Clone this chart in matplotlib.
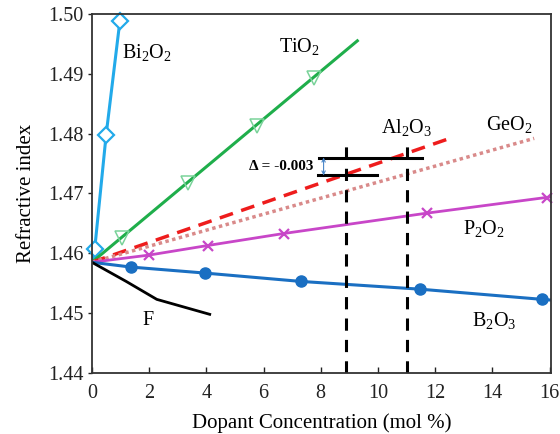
import matplotlib
matplotlib.use("Agg")
import matplotlib.pyplot as plt

plt.rcParams['font.family'] = ['Liberation Serif', 'DejaVu Serif']
plt.rcParams['mathtext.fontset'] = 'custom'
plt.rcParams['mathtext.rm'] = 'Liberation Serif'
plt.rcParams['mathtext.it'] = 'Liberation Serif:italic'

# Refractive index of silica vs dopant concentration (mol %)
bi_x = [0.0, 0.1, 0.5, 0.98, 1.02]
bi_y = [1.4585, 1.4607, 1.4798, 1.4988, 1.5003]
bi_mx = [0.1, 0.5, 0.98]
bi_my = [1.4607, 1.4798, 1.4988]

ti_x = [0.0, 9.28]
ti_y = [1.4585, 1.4955]
ti_mx = [1.05, 3.35, 5.79, 7.78]
ti_my = [1.4625, 1.4717, 1.4812, 1.4893]

al_x = [0.0, 12.39]
al_y = [1.4585, 1.4790]

ge_x = [0.0, 15.46]
ge_y = [1.4585, 1.4792]

p_x = [0.0, 2.0, 4.05, 6.7, 11.7, 16.0]
p_y = [1.4585, 1.4597, 1.4613, 1.4633, 1.4667, 1.4694]
p_mx = [2.0, 4.05, 6.7, 11.7, 15.9]
p_my = [1.4597, 1.4613, 1.4633, 1.4667, 1.4693]

b_x = [0.0, 1.36, 3.94, 7.3, 11.48, 15.74, 16.0]
b_y = [1.4585, 1.4577, 1.4567, 1.4553, 1.4540, 1.4523, 1.4522]
b_mx = [1.36, 3.94, 7.3, 11.48, 15.74]
b_my = [1.4577, 1.4567, 1.4553, 1.4540, 1.4523]

f_x = [0.0, 1.2, 2.27, 4.12]
f_y = [1.4585, 1.4553, 1.4523, 1.4498]

vlines_x = [8.9, 11.03]
vline_top = 1.4785
hl_upper = (1.4760, 7.93, 11.55)
hl_lower = (1.4730, 7.9, 9.95)
delta_text = "Δ = -0.003"

fig = plt.figure(figsize=(5.6, 4.34), dpi=100)
ax = fig.add_axes([0.164, 0.1406, 0.82, 0.8274])

c_bi = '#22aaea'
c_ti = '#1fae4b'
c_al = '#ee1c1c'
c_ge = '#d98a8a'
c_p = '#c846c8'
c_b = '#1a6fc2'

ax.plot(bi_x, bi_y, color=c_bi, lw=2.2, clip_on=True)
ax.plot(bi_mx, bi_my, ls='none', marker='D', ms=8, mfc='white', mec=c_bi, mew=1.6, clip_on=False)

ax.plot(ti_x, ti_y, color=c_ti, lw=2.2)
ax.plot(ti_mx, ti_my, ls='none', marker='v', ms=10, mfc='none', mec='#7ad39a', mew=1.1)

ax.plot(al_x, al_y, color=c_al, lw=2.5, ls=(0, (4, 2.5)))
ax.plot(ge_x, ge_y, color=c_ge, lw=2.5, ls=(0, (1, 1)))

ax.plot(p_x, p_y, color=c_p, lw=2.0)
ax.plot(p_mx, p_my, ls='none', marker='x', ms=7, mec=c_p, mew=1.6, clip_on=False)

ax.plot(b_x, b_y, color=c_b, lw=2.2)
ax.plot(b_mx, b_my, ls='none', marker='o', ms=8, color=c_b, clip_on=False)

ax.plot(f_x, f_y, color='black', lw=2.0)

for vx in vlines_x:
    ax.plot([vx, vx], [1.44, vline_top], color='black', lw=2.2, ls=(0, (4, 3)))

ax.plot([hl_upper[1], hl_upper[2]], [hl_upper[0], hl_upper[0]], color='black', lw=2.2)
ax.plot([hl_lower[1], hl_lower[2]], [hl_lower[0], hl_lower[0]], color='black', lw=2.2)
ax.annotate('', xy=(8.1, hl_upper[0]), xytext=(8.1, hl_lower[0]),
            arrowprops=dict(arrowstyle='<->', color='#4a86c8', lw=0.8,
                            shrinkA=0, shrinkB=0, mutation_scale=6))
ax.text(7.75, 1.4745, delta_text, fontsize=11, fontweight='bold', ha='right', va='center')

lab_fs = 14.5
ax.text(1.05, 1.4935, 'Bi$_2$O$_2$', fontsize=lab_fs, ha='left', va='center')
ax.text(7.26, 1.4945, 'TiO$_2$', fontsize=lab_fs, ha='center', va='center')
ax.text(11.0, 1.4810, 'Al$_2$O$_3$', fontsize=lab_fs, ha='center', va='center')
ax.text(14.6, 1.4815, 'GeO$_2$', fontsize=lab_fs, ha='center', va='center')
ax.text(13.7, 1.4642, 'P$_2$O$_2$', fontsize=lab_fs, ha='center', va='center')
ax.text(14.07, 1.4487, 'B$_2$O$_3$', fontsize=lab_fs, ha='center', va='center')
ax.text(1.95, 1.4487, 'F', fontsize=lab_fs, ha='center', va='center')

ax.set_xlim(0, 16.05)
ax.set_ylim(1.44, 1.50)
ax.set_xticks(range(0, 17, 2))
ax.set_yticks([1.44, 1.45, 1.46, 1.47, 1.48, 1.49, 1.50])
ax.set_yticklabels(['1.44', '1.45', '1.46', '1.47', '1.48', '1.49', '1.50'])
ax.tick_params(axis='x', direction='in', labelsize=14.5, length=4, width=1.0,
               colors='#222222', pad=8)
ax.tick_params(axis='y', direction='out', labelsize=14.5, length=3, width=1.0,
               colors='#222222', pad=3)
ax.set_xlabel('Dopant Concentration (mol %)', fontsize=15, labelpad=7)
ax.set_ylabel('Refractive index', fontsize=15, labelpad=9)
for s in ax.spines.values():
    s.set_linewidth(1.3)
    s.set_color('#333333')

fig.savefig('out.png', dpi=100)
